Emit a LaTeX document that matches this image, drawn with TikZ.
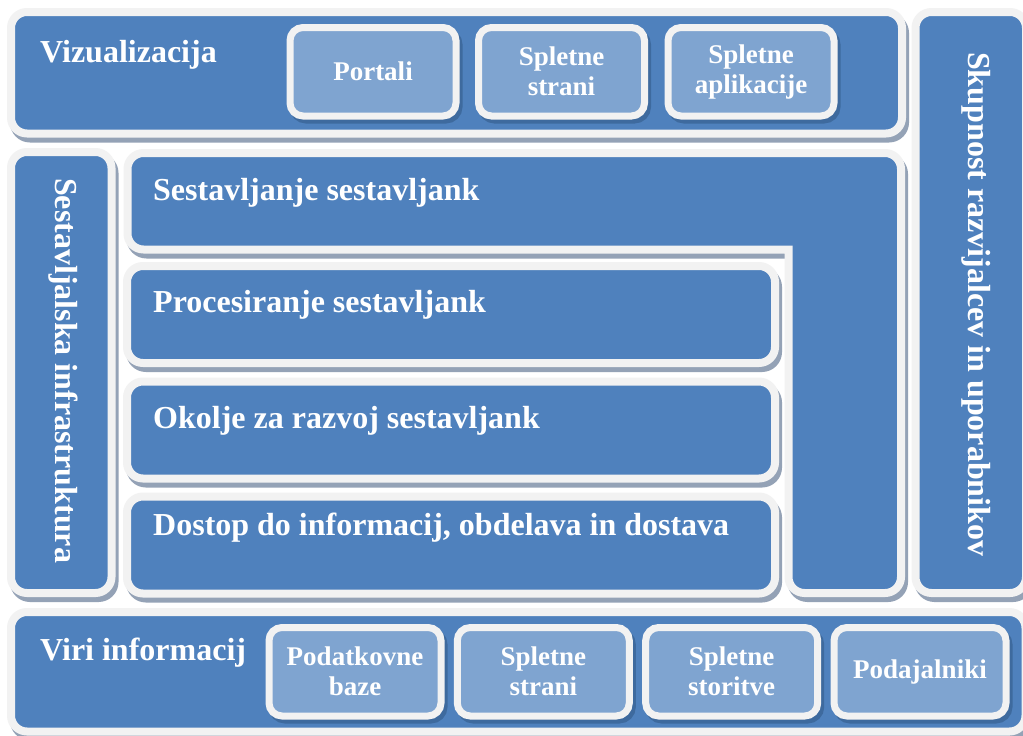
\documentclass[tikz,border=0pt]{standalone}
\usepackage{fontspec}
\setmainfont{Liberation Serif}
\usepackage{xcolor}
\usepackage{tikz}
\usetikzlibrary{shadows, positioning}

\definecolor{panelblue}{HTML}{4F81BD}
\definecolor{tileblue}{HTML}{7FA4D0}
\definecolor{rimgray}{HTML}{F2F2F2}
\definecolor{shadowgray}{HTML}{94A2B6}
\definecolor{tileshadow}{HTML}{3E6A9E}

\begin{document}
\begin{tikzpicture}[x=1pt, y=-1pt,
    panel/.style={draw=rimgray, line width=8pt, fill=panelblue, rounded corners=16pt,
        inner sep=0pt, outer sep=0pt,
        drop shadow={shadow xshift=3pt, shadow yshift=-5pt, draw=shadowgray,
            fill=shadowgray, line width=8pt, opacity=1}},
    tile/.style={draw=rimgray, line width=7pt, fill=tileblue, rounded corners=13pt,
        inner sep=0pt, outer sep=0pt, minimum height=88.5pt, align=center,
        text=white, font=\fontsize{27}{30}\selectfont\bfseries,
        drop shadow={shadow xshift=3pt, shadow yshift=-4pt, draw=tileshadow,
            fill=tileshadow, line width=7pt, opacity=1}},
    heading/.style={anchor=base west, inner sep=0pt, text=white,
        font=\fontsize{32}{36}\selectfont\bfseries},
    sidetext/.style={heading, rotate=-90}]
    \fill[white] (0,0) rectangle (1023,736);
    \useasboundingbox (0,0) rectangle (1023,736);

    % Panels
    \node[panel, minimum width=891pt, minimum height=121.5pt] (viz) at (456.5,72.75) {};
    \node[panel, minimum width=110.5pt, minimum height=581pt] (community) at (970.75,302.5) {};
    \node[panel, minimum width=100.5pt, minimum height=441pt] (infra) at (61.25,372.5) {};
    \draw[panel] (127.5,153) -- (901,153) -- (901,593) -- (788.5,593)
        [sharp corners] -- (788.5,249.5) [rounded corners=16pt] -- (127.5,249.5) -- cycle;
    \node[panel, minimum width=648pt, minimum height=97pt] (processing) at (451,314.5) {};
    \node[panel, minimum width=648pt, minimum height=97pt] (devenv) at (451,430) {};
    \node[panel, minimum width=648pt, minimum height=97pt] (access) at (451,545) {};
    \node[panel, minimum width=1014.5pt, minimum height=119.5pt] (sources) at (518.25,671.75) {};

    % Headings
    \node[heading] (vizlabel) at (40,62) {Vizualizacija};
    \node[heading] (assemblylabel) at (153,200) {Sestavljanje sestavljank};
    \node[heading] (processinglabel) at (153,312) {Procesiranje sestavljank};
    \node[heading] (devenvlabel) at (153,428) {Okolje za razvoj sestavljank};
    \node[heading] (accesslabel) at (153,535) {Dostop do informacij, obdelava in dostava};
    \node[heading] (sourceslabel) at (40,660) {Viri informacij};
    \node[sidetext] (infralabel) at (55,178) {Sestavljalska infrastruktura};
    \node[sidetext] (communitylabel) at (968,52) {Skupnost razvijalcev in uporabnikov};

    % Tiles
    \node[tile, minimum width=166pt] (portals) at (373,71.75) {Portali};
    \node[tile, minimum width=166pt] (webpages) at (561.5,71.75) {Spletne\\strani};
    \node[tile, minimum width=166pt] (webapps) at (751,71.75) {Spletne\\aplikacije};
    \node[tile, minimum width=172pt] (databases) at (355,671.75) {Podatkovne\\baze};
    \node[tile, minimum width=172pt] (websites) at (543.3,671.75) {Spletne\\strani};
    \node[tile, minimum width=172pt] (webservices) at (731.7,671.75) {Spletne\\storitve};
    \node[tile, minimum width=172pt] (providers) at (920,671.75) {Podajalniki};
\end{tikzpicture}
\end{document}
